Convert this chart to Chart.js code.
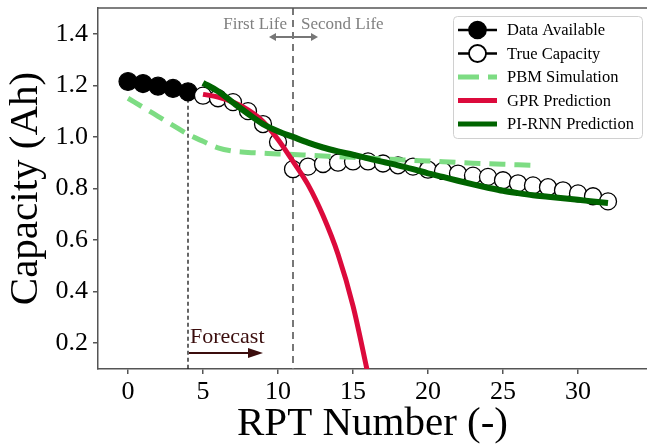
<!DOCTYPE html>
<html>
<head>
<meta charset="utf-8">
<script src="https://cdn.jsdelivr.net/npm/chart.js@4/dist/chart.umd.min.js"></script>
<style>
  html, body { margin: 0; padding: 0; background: #fff; overflow: hidden; }
  #wrap { width: 647px; height: 448px; }
  #myChart { display: block; }
</style>
</head>
<body>
<div id="wrap"><canvas id="myChart" width="647" height="448"></canvas></div>
<script>
// values
var availRpt = [0, 1, 2, 3, 4];
var availCap = [1.215, 1.207, 1.197, 1.188, 1.175];

var trueRpt = [5, 6, 7, 8, 9, 10, 11, 12, 13, 14, 15, 16, 17, 18, 19, 20, 21, 22, 23, 24, 25, 26, 27, 28, 29, 30, 31, 32];
var trueCap = [1.16, 1.15, 1.135, 1.10, 1.05, 0.98, 0.875, 0.885, 0.895, 0.90, 0.905, 0.905, 0.897, 0.89, 0.885, 0.873, 0.868, 0.858, 0.85, 0.845, 0.832, 0.82, 0.812, 0.805, 0.793, 0.781, 0.77, 0.75];

var pbmRpt = [0, 1, 2, 3, 4, 5, 6, 7, 8, 9, 10, 11, 12, 13, 14, 15, 16, 17, 18, 19, 20, 21, 22, 23, 24, 25, 26, 27];
var pbmCap = [1.15, 1.115, 1.08, 1.045, 1.01, 0.983, 0.958, 0.945, 0.94, 0.937, 0.934, 0.932, 0.929, 0.926, 0.923, 0.921, 0.918, 0.915, 0.912, 0.909, 0.907, 0.904, 0.901, 0.898, 0.896, 0.894, 0.892, 0.89];

var gprRpt = [5, 6, 7, 8, 9, 10, 11, 12, 13, 14, 15, 16];
var gprCap = [1.165, 1.155, 1.135, 1.105, 1.06, 0.99, 0.905, 0.815, 0.695, 0.545, 0.345, 0.08];

var rnnRpt = [5, 6, 7, 8, 9, 10, 11, 12, 13, 14, 15, 16, 17, 18, 19, 20, 21, 22, 23, 24, 25, 26, 27, 28, 29, 30, 31, 32];
var rnnCap = [1.21, 1.177, 1.133, 1.09, 1.05, 1.022, 1.0, 0.978, 0.959, 0.944, 0.931, 0.917, 0.903, 0.89, 0.875, 0.859, 0.845, 0.83, 0.816, 0.803, 0.791, 0.782, 0.774, 0.768, 0.762, 0.756, 0.75, 0.744];

var xTicks = [0, 5, 10, 15, 20, 25, 30];
var yTicks = [0.2, 0.4, 0.6, 0.8, 1.0, 1.2, 1.4];

var lifeSplit = 11;   // first life / second life boundary
var forecastStart = 4;

var serif = '"Liberation Serif", "DejaVu Serif", serif';

function toPoints(xs, ys) {
  return xs.map(function (x, i) { return { x: x, y: ys[i] }; });
}

// dashed guide lines behind the data, texts + legend on top
var extras = {
  id: 'extras',
  beforeDatasetsDraw: function (chart) {
    var ctx = chart.ctx, a = chart.chartArea;
    var xs = chart.scales.x, ys = chart.scales.y;
    ctx.save();
    // first life / second life divider
    var px = xs.getPixelForValue(lifeSplit);
    ctx.strokeStyle = '#777';
    ctx.lineWidth = 2;
    ctx.setLineDash([7, 5]);
    ctx.beginPath();
    ctx.moveTo(px, a.top);
    ctx.lineTo(px, a.bottom);
    ctx.stroke();
    // forecast start
    px = xs.getPixelForValue(forecastStart);
    ctx.strokeStyle = '#000';
    ctx.lineWidth = 1.2;
    ctx.setLineDash([4, 3]);
    ctx.beginPath();
    ctx.moveTo(px, ys.getPixelForValue(availCap[availCap.length - 1]));
    ctx.lineTo(px, a.bottom);
    ctx.stroke();
    ctx.restore();
  },
  afterDraw: function (chart) {
    var ctx = chart.ctx, a = chart.chartArea;
    var xs = chart.scales.x;
    ctx.save();

    // top spine
    ctx.strokeStyle = '#555';
    ctx.lineWidth = 1.5;
    ctx.beginPath();
    ctx.moveTo(a.left, a.top);
    ctx.lineTo(chart.width, a.top);
    ctx.stroke();

    // First Life <-> Second Life
    var px = xs.getPixelForValue(lifeSplit);
    ctx.fillStyle = '#808080';
    ctx.font = '17px ' + serif;
    ctx.textBaseline = 'alphabetic';
    ctx.textAlign = 'right';
    ctx.fillText('First Life', px - 6, 29);
    ctx.textAlign = 'left';
    ctx.fillText('Second Life', px + 8, 29);
    drawArrow(ctx, px, 37, px - 24, 37, '#777', 2, 7, 4);
    drawArrow(ctx, px, 37, px + 25, 37, '#777', 2, 7, 4);

    // Forecast arrow
    var fx = xs.getPixelForValue(forecastStart);
    ctx.fillStyle = '#3b0d0d';
    ctx.font = '22px ' + serif;
    ctx.textAlign = 'left';
    ctx.fillText('Forecast', fx + 2, 343);
    drawArrow(ctx, fx + 1, 353, fx + 75, 353, '#3b0d0d', 2, 15, 5);

    // legend
    var lx = 453, ly = 16, lw = 189, lh = 122;
    ctx.fillStyle = 'rgba(255,255,255,0.85)';
    ctx.strokeStyle = '#d0d0d0';
    ctx.lineWidth = 1;
    ctx.beginPath();
    ctx.roundRect(lx + 0.5, ly + 0.5, lw, lh, 4);
    ctx.fill();
    ctx.stroke();

    var ds = chart.data.datasets;
    ds.forEach(function (d, i) {
      var cy = ly + 14 + i * 23.5;
      var x0 = lx + 5, x1 = lx + 44, cx = (x0 + x1) / 2;
      ctx.save();
      if (d.showLine === false) {
        ctx.strokeStyle = '#000';
        ctx.lineWidth = 2.5;
        ctx.beginPath();
        ctx.moveTo(x0, cy);
        ctx.lineTo(x1, cy);
        ctx.stroke();
        ctx.fillStyle = d.pointBackgroundColor;
        ctx.strokeStyle = d.pointBorderColor;
        ctx.lineWidth = d.pointBorderWidth + 0.5;
        ctx.beginPath();
        ctx.arc(cx, cy, 8.5, 0, Math.PI * 2);
        ctx.fill();
        ctx.stroke();
      } else {
        ctx.strokeStyle = d.borderColor;
        ctx.lineWidth = 5;
        if (d.borderDash) ctx.setLineDash([21, 9]);
        ctx.beginPath();
        ctx.moveTo(x0, cy);
        ctx.lineTo(x1, cy);
        ctx.stroke();
      }
      ctx.restore();
      ctx.fillStyle = '#000';
      ctx.font = '16.5px ' + serif;
      ctx.textAlign = 'left';
      ctx.textBaseline = 'middle';
      ctx.fillText(d.label, lx + 54, cy + 1);
    });

    ctx.restore();
  }
};

function drawArrow(ctx, x0, y0, x1, y1, color, width, headLen, headHalf) {
  var dir = x1 > x0 ? 1 : -1;
  ctx.save();
  ctx.strokeStyle = color;
  ctx.fillStyle = color;
  ctx.lineWidth = width;
  ctx.setLineDash([]);
  ctx.beginPath();
  ctx.moveTo(x0, y0);
  ctx.lineTo(x1 - dir * headLen * 0.6, y1);
  ctx.stroke();
  ctx.beginPath();
  ctx.moveTo(x1, y1);
  ctx.lineTo(x1 - dir * headLen, y1 - headHalf);
  ctx.lineTo(x1 - dir * headLen, y1 + headHalf);
  ctx.closePath();
  ctx.fill();
  ctx.restore();
}

new Chart('myChart', {
  type: 'line',
  data: {
    datasets: [{
      label: 'Data Available',
      data: toPoints(availRpt, availCap),
      showLine: false,
      pointRadius: 9,
      pointBackgroundColor: '#000',
      pointBorderColor: '#000',
      pointBorderWidth: 1.2,
      order: 5
    }, {
      label: 'True Capacity',
      data: toPoints(trueRpt, trueCap),
      showLine: false,
      pointRadius: 8.5,
      pointBackgroundColor: '#fff',
      pointBorderColor: '#000',
      pointBorderWidth: 1.3,
      order: 4
    }, {
      label: 'PBM Simulation',
      data: toPoints(pbmRpt, pbmCap),
      borderColor: '#7ddc83',
      borderWidth: 5,
      borderDash: [16, 9],
      pointRadius: 0,
      cubicInterpolationMode: 'monotone',
      order: 3
    }, {
      label: 'GPR Prediction',
      data: toPoints(gprRpt, gprCap),
      borderColor: '#dc0a3c',
      borderWidth: 5,
      pointRadius: 0,
      cubicInterpolationMode: 'monotone',
      clip: 0,
      order: 2
    }, {
      label: 'PI-RNN Prediction',
      data: toPoints(rnnRpt, rnnCap),
      borderColor: '#006400',
      borderWidth: 6,
      pointRadius: 0,
      cubicInterpolationMode: 'monotone',
      order: 1
    }]
  },
  options: {
    responsive: false,
    devicePixelRatio: 1,
    animation: false,
    events: [],
    layout: { autoPadding: false, padding: { top: 8, right: 0, left: 0, bottom: 0 } },
    plugins: {
      legend: { display: false },
      tooltip: { enabled: false }
    },
    scales: {
      x: {
        type: 'linear',
        min: -2,
        max: 34.6,
        afterBuildTicks: function (s) { s.ticks = xTicks.map(function (v) { return { value: v }; }); },
        afterFit: function (s) { s.height = 79; s.paddingLeft = 0; s.paddingRight = 0; },
        grid: { drawOnChartArea: false, drawTicks: true, tickLength: 5, color: '#555', lineWidth: 1.5 },
        border: { display: true, color: '#555', width: 1.5 },
        ticks: { color: '#000', padding: 3, font: { family: serif, size: 26 } },
        title: { display: true, text: 'RPT Number (-)', color: '#000', padding: { top: 0, bottom: -1 }, font: { family: serif, size: 41 } }
      },
      y: {
        min: 0.1,
        max: 1.5,
        afterBuildTicks: function (s) { s.ticks = yTicks.map(function (v) { return { value: v }; }); },
        afterFit: function (s) { s.width = 98; s.paddingTop = 0; s.paddingBottom = 0; },
        grid: { drawOnChartArea: false, drawTicks: true, tickLength: 5, color: '#555', lineWidth: 1.5 },
        border: { display: true, color: '#555', width: 1.5 },
        ticks: {
          color: '#000', padding: 5, font: { family: serif, size: 26 },
          callback: function (v) { return v.toFixed(1); }
        },
        title: { display: true, text: 'Capacity (Ah)', color: '#000', padding: { top: 2, bottom: 0 }, font: { family: serif, size: 41 } }
      }
    }
  },
  plugins: [extras]
});
</script>
</body>
</html>
